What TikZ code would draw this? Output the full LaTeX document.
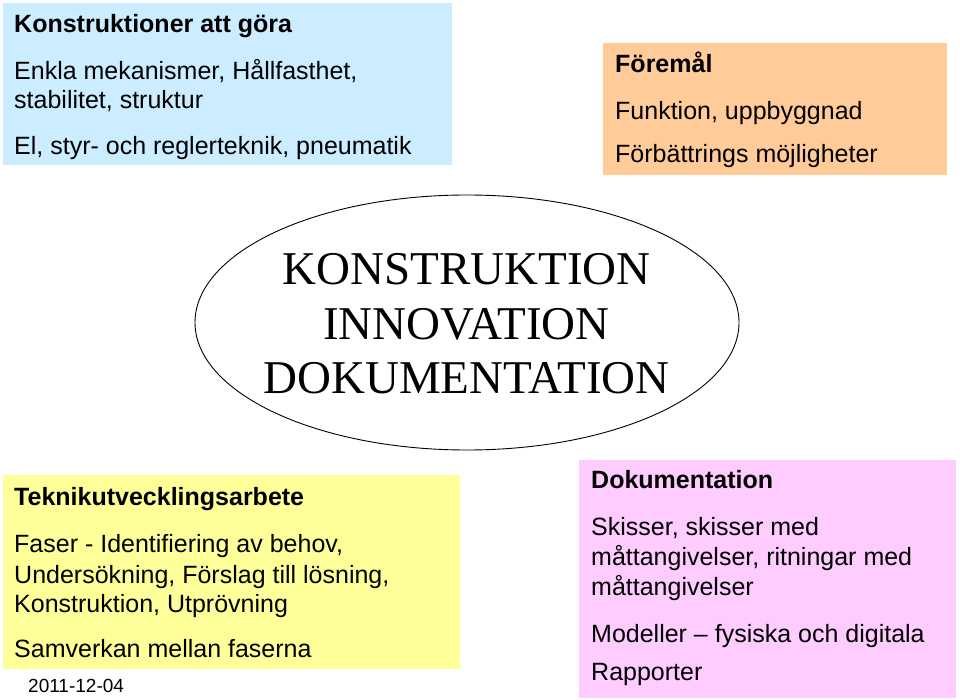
\documentclass[tikz,border=0pt]{standalone}
\usepackage{fontspec}
\setmainfont{Liberation Sans}
\newfontfamily\serifcore{Liberation Serif}
\usepackage{tikz}
\usetikzlibrary{shapes.geometric}
\definecolor{boxblue}{HTML}{CCECFF}
\definecolor{boxorange}{HTML}{FFCC99}
\definecolor{boxyellow}{HTML}{FFFF99}
\definecolor{boxpink}{HTML}{FFCCFF}
\tikzset{panel/.style = {anchor=north west, inner sep=0, minimum width=#1}}
\tikzset{line/.style = {anchor=base west, inner sep=0, font=\fontsize{25}{29}\selectfont}}
\tikzset{head/.style = {line, font=\fontsize{25}{29}\selectfont\bfseries}}
\tikzset{core/.style = {anchor=base, inner sep=0, font=\serifcore\fontsize{47}{54}\selectfont}}

\begin{document}
\begin{tikzpicture}[x=1pt, y=-1pt]
      \useasboundingbox (0, 0) rectangle (960, 700);
      % boxes
      \node [panel=449pt, minimum height=162pt, fill=boxblue] (tools) at (3, 3) {};
      \node [panel=344pt, minimum height=132pt, fill=boxorange] (object) at (603, 43) {};
      \node [panel=457pt, minimum height=194pt, fill=boxyellow] (work) at (3, 475) {};
      \node [panel=377pt, minimum height=238pt, fill=boxpink] (docs) at (579, 460) {};
      \node [ellipse, draw, line width=0.9pt, minimum width=544pt, minimum height=255pt] (centre) at (467, 322.5) {};
      % top left
      \node [head] (toolsH) at (14, 33) {Konstruktioner att göra};
      \node [line] (tools1) at (14, 80) {Enkla mekanismer, Hållfasthet,};
      \node [line] (tools2) at (14, 109) {stabilitet, struktur};
      \node [line] (tools3) at (14, 155) {El, styr- och reglerteknik, pneumatik};
      % top right
      \node [head] (objectH) at (615, 73) {Föremål};
      \node [line] (object1) at (615, 120) {Funktion, uppbyggnad};
      \node [line] (object2) at (615, 163) {Förbättrings möjligheter};
      % centre
      \node [core] (k) at (466.5, 285) {KONSTRUKTION};
      \node [core] (i) at (466.5, 339) {INNOVATION};
      \node [core] (d) at (466.5, 393) {DOKUMENTATION};
      % bottom left
      \node [head] (workH) at (14, 505) {Teknikutvecklingsarbete};
      \node [line] (work1) at (14, 552) {Faser - Identifiering av behov,};
      \node [line] (work2) at (14, 583) {Undersökning, Förslag till lösning,};
      \node [line] (work3) at (14, 612) {Konstruktion, Utprövning};
      \node [line] (work4) at (14, 657) {Samverkan mellan faserna};
      \node [line, font=\fontsize{19}{22}\selectfont] (date) at (28, 692) {2011-12-04};
      % bottom right
      \node [head] (docsH) at (591, 488) {Dokumentation};
      \node [line] (docs1) at (591, 535) {Skisser, skisser med};
      \node [line] (docs2) at (591, 565) {måttangivelser, ritningar med};
      \node [line] (docs3) at (591, 595) {måttangivelser};
      \node [line] (docs4) at (591, 642) {Modeller – fysiska och digitala};
      \node [line] (docs5) at (591, 680) {Rapporter};
    \end{tikzpicture}
\end{document}
